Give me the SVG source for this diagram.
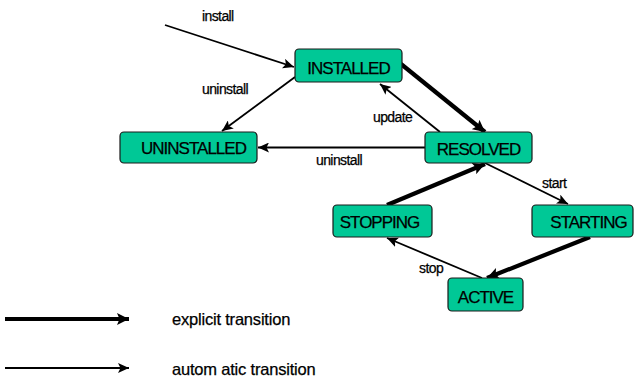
<svg xmlns="http://www.w3.org/2000/svg" width="635" height="378" viewBox="0 0 635 378">
  <style>
    .state rect { fill: #00c896; stroke: #1a1a1a; stroke-width: 1.2; }
    .state text { font-family: "Liberation Sans", Arial, sans-serif; font-size: 17px; letter-spacing: -1px; fill: #000; stroke: #000; stroke-width: 0.25; text-anchor: middle; }
    .thin { stroke: #000; stroke-width: 1.8; fill: none; marker-end: url(#headThin); }
    .thick { stroke: #000; stroke-width: 4.2; fill: none; marker-end: url(#headThick); }
    .lbl { font-family: "Liberation Sans", Arial, sans-serif; font-size: 14px; letter-spacing: -0.6px; fill: #000; stroke: #000; stroke-width: 0.25; }
    .legend { font-family: "Liberation Sans", Arial, sans-serif; font-size: 16.5px; letter-spacing: -0.2px; fill: #000; stroke: #000; stroke-width: 0.25; }
  </style>
  <defs>
    <marker id="headThin" markerUnits="userSpaceOnUse" markerWidth="12" markerHeight="10" refX="11" refY="5" orient="auto">
      <path d="M0,0 L11,5 L0,10 L2.5,5 Z" fill="#000"/>
    </marker>
    <marker id="headThick" markerUnits="userSpaceOnUse" markerWidth="13" markerHeight="12" refX="12" refY="6" orient="auto">
      <path d="M0,0 L12,6 L0,12 L2.5,6 Z" fill="#000"/>
    </marker>
  </defs>

  <!-- transitions -->
  <g id="connectors">
    <line class="thin" x1="165" y1="25" x2="294" y2="67"/>
    <line class="thin" x1="295" y1="77" x2="222" y2="131"/>
    <line class="thick" x1="401" y1="64" x2="485" y2="132"/>
    <line class="thin" x1="440" y1="132" x2="380" y2="84"/>
    <line class="thin" x1="425" y1="147.5" x2="258" y2="147.5"/>
    <line class="thick" x1="387" y1="205" x2="485" y2="164"/>
    <line class="thin" x1="485" y1="163" x2="568" y2="204"/>
    <line class="thick" x1="590" y1="237" x2="487" y2="278"/>
    <line class="thin" x1="482" y1="278" x2="387" y2="238"/>
    <!-- legend arrows -->
    <line class="thick" x1="5" y1="319" x2="129" y2="319"/>
    <line class="thin" x1="5" y1="368" x2="129" y2="368"/>
  </g>

  <g id="installed" class="state">
    <rect x="295" y="49" width="107" height="33" rx="4"/>
    <text x="348.5" y="74">INSTALLED</text>
  </g>
  <g id="uninstalled" class="state">
    <rect x="120" y="132" width="137" height="31" rx="4"/>
    <text x="193.5" y="154">UNINSTALLED</text>
  </g>
  <g id="resolved" class="state">
    <rect x="425" y="132" width="107" height="31" rx="4"/>
    <text x="478.5" y="155">RESOLVED</text>
  </g>
  <g id="stopping" class="state">
    <rect x="333" y="205" width="99" height="32" rx="4"/>
    <text x="379.5" y="228">STOPPING</text>
  </g>
  <g id="starting" class="state">
    <rect x="532" y="205" width="101" height="32" rx="4"/>
    <text x="588.5" y="228">STARTING</text>
  </g>
  <g id="active" class="state">
    <rect x="448" y="278" width="75" height="33" rx="4"/>
    <text x="485.5" y="303">ACTIVE</text>
  </g>

  <!-- transition labels -->
  <g id="labels">
    <text class="lbl" x="202" y="21">install</text>
    <text class="lbl" x="202" y="94">uninstall</text>
    <text class="lbl" x="373" y="122">update</text>
    <text class="lbl" x="316" y="165">uninstall</text>
    <text class="lbl" x="542" y="188">start</text>
    <text class="lbl" x="419" y="273">stop</text>
  </g>

  <g id="legend">
    <text class="legend" x="172" y="325">explicit transition</text>
    <text class="legend" x="172" y="375">autom atic transition</text>
  </g>
</svg>
